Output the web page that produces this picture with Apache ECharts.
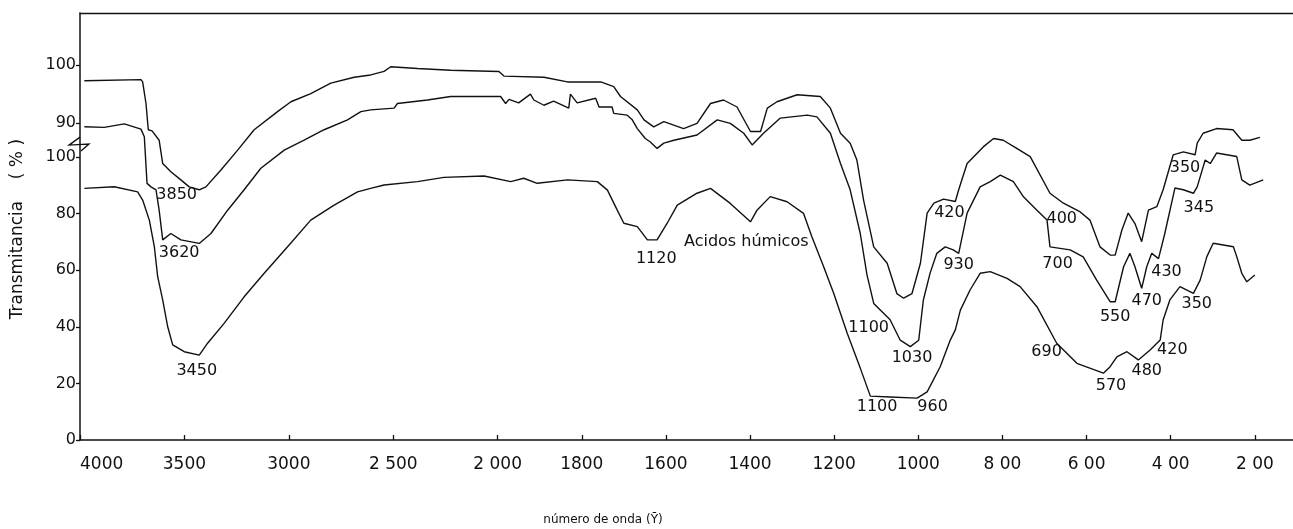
<!DOCTYPE html>
<html>
<head>
<meta charset="utf-8">
<script src="https://cdn.jsdelivr.net/npm/echarts@6/dist/echarts.min.js"></script>
<style>
html,body{margin:0;padding:0;background:#fff;}
#chart{width:1293px;height:529px;}
</style>
</head>
<body>
<div id="chart"></div>
<script>
// ---- axis ticks ----
const xTickWn = [4000,3500,3000,2500,2000,1800,1600,1400,1200,1000,800,600,400,200];
const xTickLabels = ['4000','3500','3000','2 500','2 000','1800','1600','1400','1200','1000','8 00','6 00','4 00','2 00'];
const yTickLower = [0,20,40,60,80,100];
const yTickLowerLabels = ['0','20','40','60','80','100'];
const yTickUpper = [90,100];
const yTickUpperLabels = ['90','100'];

// ---- top curve (upper transmittance scale) ----
const wnA = [3979,3708,3700,3684,3673,3655,3621,3604,3565,3517,3477,3429,3397,3325,3245,3166,3054,2990,2895,2799,2687,2608,2544,2512,2384,2225,1997,1985,1890,1834,1755,1724,1708,1668,1652,1629,1605,1558,1526,1494,1463,1431,1399,1375,1359,1336,1288,1233,1209,1185,1162,1146,1130,1106,1074,1051,1035,1015,995,979,963,940,912,904,884,845,821,798,766,734,687,655,615,592,568,544,532,516,501,485,469,453,433,418,394,370,342,337,323,291,252,231,212,188];
const tA = [97.3,97.5,97.1,93.4,88.9,88.7,87.1,83.1,81.7,80.3,79.1,78.6,79.1,82.0,85.4,88.9,92.0,93.7,95.1,96.9,97.9,98.3,98.9,99.7,99.4,99.1,98.9,98.1,97.9,97.1,97.1,96.3,94.6,92.3,90.6,89.4,90.3,89.1,90.0,93.4,94.0,92.8,88.6,88.6,92.6,93.7,94.9,94.6,92.6,88.3,86.6,83.7,76.8,68.8,66.0,60.8,60.0,60.8,66.0,74.6,76.3,77.0,76.6,78.6,83.1,86.0,87.4,87.1,85.7,84.3,78.0,76.3,74.8,73.4,68.8,67.4,67.4,71.7,74.6,72.8,69.7,75.1,75.7,78.6,84.6,85.1,84.6,86.6,88.3,89.1,88.9,87.1,87.1,87.6];

// ---- middle curve (upper transmittance scale) ----
const wnB = [3979,3884,3788,3708,3692,3679,3660,3636,3621,3604,3565,3517,3429,3373,3293,3214,3134,3022,2927,2831,2719,2655,2608,2496,2480,2336,2225,1993,1981,1973,1950,1922,1914,1890,1867,1831,1827,1811,1767,1759,1728,1724,1692,1680,1668,1649,1637,1621,1605,1581,1526,1478,1447,1415,1395,1368,1328,1264,1241,1209,1185,1162,1138,1122,1106,1067,1043,1019,999,988,972,956,936,917,904,884,853,829,805,774,750,718,694,687,639,608,576,544,532,512,497,485,469,457,445,429,414,390,370,346,337,318,306,291,243,231,212,180];
const tB = [89.4,89.3,89.9,89.0,87.7,79.7,79.1,78.6,75.1,70.0,71.1,70.0,69.4,71.1,75.1,78.6,82.3,85.4,87.1,88.9,90.6,92.0,92.3,92.6,93.4,94.0,94.6,94.6,93.4,94.1,93.5,95.0,94.0,93.1,93.8,92.6,95.0,93.5,94.3,92.8,92.8,91.7,91.4,90.6,89.1,87.4,86.8,85.7,86.6,87.1,88.0,90.6,90.0,88.3,86.3,88.3,90.9,91.4,91.1,88.3,83.1,78.6,71.1,64.0,59.1,56.3,52.8,51.7,52.8,59.7,64.3,67.7,68.8,68.3,67.7,74.6,79.1,80.0,81.1,80.0,77.4,75.1,73.4,68.8,68.3,67.1,63.1,59.4,59.4,65.4,67.7,65.4,61.7,65.4,67.7,66.8,71.1,78.9,78.6,78.0,79.1,83.7,83.1,84.9,84.3,80.3,79.4,80.3];

// ---- bottom curve, Acidos húmicos (lower transmittance scale) ----
const wnC = [3979,3836,3724,3700,3668,3644,3628,3604,3580,3556,3501,3429,3389,3310,3214,3118,3006,2895,2783,2671,2608,2544,2384,2257,2065,1969,1938,1906,1834,1763,1739,1716,1700,1668,1644,1621,1597,1573,1526,1494,1447,1399,1383,1352,1312,1273,1253,1225,1201,1169,1138,1114,1067,1003,979,948,924,912,900,877,853,829,789,758,718,671,623,560,544,528,504,477,449,425,418,402,378,346,330,314,299,251,243,231,219,200];
const tC = [88.9,89.5,87.7,84.8,77.7,68.3,57.7,49.5,40.0,33.6,31.2,30.0,34.2,41.2,50.6,58.9,68.3,77.7,83.0,87.7,88.9,90.1,91.3,92.8,93.3,91.3,92.5,90.7,91.9,91.3,88.3,81.3,76.6,75.4,70.7,70.7,76.6,83.0,87.2,88.9,83.6,77.1,81.3,86.0,84.2,80.1,71.8,61.2,51.8,37.7,25.4,15.5,15.2,14.8,17.0,25.9,35.3,38.9,45.9,53.0,58.9,59.5,57.1,54.2,47.1,34.2,27.1,23.6,25.9,29.4,31.2,28.3,31.8,35.3,42.4,49.5,54.2,51.8,56.5,64.8,69.5,68.3,64.8,58.9,55.9,58.3];

// ---- peak annotations (wavenumber, height on lower scale) ----
const annText = ['3850','3620','3450','1120','Acidos húmicos','1100','1030','1100','960','420','930','400','700','690','550','570','470','480','430','420','350','345','350'];
const annWn = [3537,3525,3441,1623,1409,1118,1015,1098,966,926,904,659,669,695,532,542,457,457,410,396,366,333,338];
const annV = [86.6,66.2,24.5,63.9,70.1,39.5,28.9,11.6,11.6,80.1,61.8,78.3,62.4,31.2,43.6,19.1,49.1,24.5,59.5,31.8,96.0,82.2,48.1];

// ---- scale helpers: the wavenumber axis changes scale at 2000 ----
const K_UP = 104.5 / 84.2;
function toU(w) { return w >= 2000 ? (4000 - w) / 500 * K_UP : 4 * K_UP + (2000 - w) / 200; }
function upperToV(t) { return 111.9 + (t - 90) * 2.06; }

const xTickU = xTickWn.map(toU);
const yTickV = yTickLower.concat(yTickUpper.map(upperToV));
const yTickLab = yTickLowerLabels.concat(yTickUpperLabels);

function findLabel(vals, labs, v) {
  for (let i = 0; i < vals.length; i++) if (Math.abs(vals[i] - v) < 1e-6) return labs[i];
  return '';
}

const dataA = wnA.map((w, i) => [toU(w), upperToV(tA[i])]);
const dataB = wnB.map((w, i) => [toU(w), upperToV(tB[i])]);
const dataC = wnC.map((w, i) => [toU(w), tC[i]]);
const dataAnn = annWn.map((w, i) => [toU(w), annV[i], annText[i]]);

const FONT = 'DejaVu Sans';
const INK = '#111111';
const lineStyle = { color: INK, width: 1.4 };

const chart = echarts.init(document.getElementById('chart'), null, { renderer: 'canvas' });
const X_MAX = (1293 - 79) / 84.2;
const Y_MAX = 427 / 2.83;

chart.setOption({
  animation: false,
  backgroundColor: '#fff',
  grid: { left: 80, right: 0, top: 13, bottom: 89 },
  xAxis: [{
    type: 'value', min: 0, max: X_MAX,
    axisLine: { show: true, lineStyle: { color: INK, width: 1.5 } },
    axisTick: { show: true, inside: true, length: 5, customValues: xTickU, lineStyle: { color: INK, width: 1.3 } },
    axisLabel: {
      customValues: xTickU, margin: 16, alignMinLabel: 'left',
      fontFamily: FONT, fontSize: 17, color: INK,
      formatter: v => findLabel(xTickU, xTickLabels, v)
    },
    splitLine: { show: false }
  }, {
    type: 'value', min: 0, max: X_MAX, position: 'top',
    axisLine: { show: true, lineStyle: { color: INK, width: 1.3 } },
    axisTick: { show: false }, axisLabel: { show: false }, splitLine: { show: false }
  }],
  yAxis: {
    type: 'value', min: 0, max: Y_MAX,
    axisLine: { show: true, lineStyle: { color: INK, width: 1.5 } },
    axisTick: { show: true, length: 4, customValues: yTickV, lineStyle: { color: INK, width: 1.3 } },
    axisLabel: {
      customValues: yTickV, margin: 4,
      fontFamily: FONT, fontSize: 16, color: INK,
      formatter: v => findLabel(yTickV, yTickLab, v)
    },
    splitLine: { show: false }
  },
  series: [
    { type: 'line', data: dataA, showSymbol: false, lineStyle: lineStyle, silent: true },
    { type: 'line', data: dataB, showSymbol: false, lineStyle: lineStyle, silent: true },
    { type: 'line', data: dataC, showSymbol: false, lineStyle: lineStyle, silent: true },
    {
      type: 'scatter', data: dataAnn, symbolSize: 0, silent: true,
      itemStyle: { color: INK, opacity: 1 },
      label: {
        show: true, position: [0, 0], align: 'center', verticalAlign: 'middle',
        formatter: p => p.data[2], fontFamily: FONT, fontSize: 16, color: INK,
        textBorderWidth: 0, opacity: 1
      }
    }
  ]
});

// y axis title, and axis break marker between the lower 100 and the upper 90
const bx = chart.convertToPixel({ xAxisIndex: 0 }, 0);
const by = chart.convertToPixel({ yAxisIndex: 0 }, 104.2);
const yNameMid = chart.convertToPixel({ yAxisIndex: 0 }, 74.5);
chart.setOption({
  graphic: [
    {
      type: 'text', x: 18, y: yNameMid, rotation: Math.PI / 2,
      style: { text: 'Transmitancia    ( % )', fontFamily: FONT, fontSize: 17, fill: INK, align: 'center', verticalAlign: 'middle' }
    },
    {
      type: 'text', x: 603, y: 520,
      style: { text: 'número de onda (Ȳ)', fontFamily: FONT, fontSize: 12, fill: INK, align: 'center', verticalAlign: 'middle' }
    },
    {
      type: 'polyline',
      shape: { points: [[bx, by - 8], [bx - 11, by], [bx + 9, by - 1], [bx + 1, by + 6]] },
      style: { stroke: INK, lineWidth: 1.3, fill: null }
    }
  ]
});
</script>
</body>
</html>
